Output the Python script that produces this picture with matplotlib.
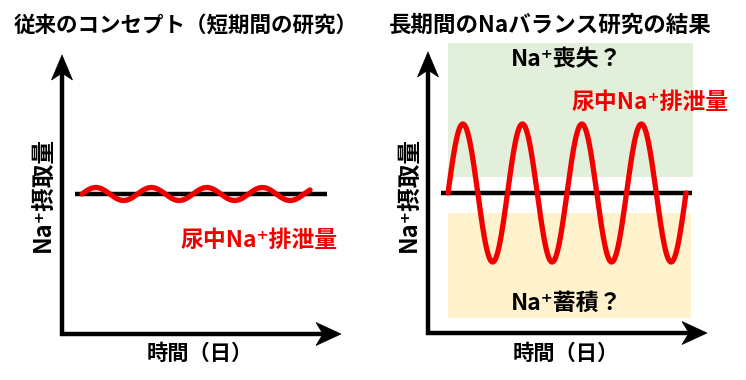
import numpy as np
import matplotlib
matplotlib.use("Agg")
import matplotlib.pyplot as plt
from matplotlib.patches import Polygon, Rectangle

plt.rcParams['font.family'] = ['Noto Sans CJK JP', 'DejaVu Sans']

# ---- texts ----
titles = ["従来のコンセプト（短期間の研究）", "長期間のNaバランス研究の結果"]
ylabel = "Na⁺摂取量"
xlabel = "時間（日）"
red_label = "尿中Na⁺排泄量"
loss_label = "Na⁺喪失？"
gain_label = "Na⁺蓄積？"

# ---- schematic values (pixel layout units) ----
# panel: y-axis x, x-axis y, y-arrow tip, x-arrow tip
axis_x = [62, 428]
axis_y = [334, 333]
arrow_top = [55, 52]
arrow_right = [341, 707]
# intake (black) level and extent
intake_level = [194, 193]
intake_x0 = [75, 441]
intake_x1 = [327, 692]
# urinary excretion wave: start, end, period, amplitude
wave_start = [82, 448]
wave_end = [310, 686]
wave_period = [55.5, 59.5]
wave_amp = [6.5, 69]

RED = "#f20000"
GREEN = "#e2efda"
ORANGE = "#fff2cc"

fig = plt.figure(figsize=(7.46, 3.80), dpi=100)
ax = fig.add_axes([0, 0, 1, 1])
ax.set_xlim(0, 746)
ax.set_ylim(380, 0)
ax.axis('off')

# shaded regions on right panel
ax.add_patch(Rectangle((448, 43), 245, 134, facecolor=GREEN, edgecolor='none', zorder=0))
ax.add_patch(Rectangle((448, 213), 243, 105, facecolor=ORANGE, edgecolor='none', zorder=0))

for i in range(2):
    ax0 = axis_x[i]
    ay0 = axis_y[i]
    # axes lines
    ax.plot([ax0, ax0, arrow_right[i] - 15], [arrow_top[i] + 15, ay0, ay0],
            color='k', lw=3.2, solid_joinstyle='miter', solid_capstyle='butt', zorder=3)
    # arrow heads (stealth)
    t = arrow_top[i]
    ax.add_patch(Polygon([(ax0, t), (ax0 - 10.5, t + 25), (ax0, t + 18), (ax0 + 10.5, t + 25)],
                         closed=True, facecolor='k', edgecolor='k', lw=0.5, zorder=4))
    r = arrow_right[i]
    ax.add_patch(Polygon([(r, ay0), (r - 25, ay0 - 11.5), (r - 18, ay0), (r - 25, ay0 + 11.5)],
                         closed=True, facecolor='k', edgecolor='k', lw=0.5, zorder=4))
    # intake level
    ax.plot([intake_x0[i], intake_x1[i]], [intake_level[i]] * 2, color='k', lw=3.2,
            solid_capstyle='butt', zorder=2)
    # excretion wave
    xs = np.linspace(wave_start[i], wave_end[i], 600)
    ys = intake_level[i] - wave_amp[i] * np.sin(2 * np.pi * (xs - wave_start[i]) / wave_period[i])
    ax.plot(xs, ys, color=RED, lw=3.8, solid_capstyle='round', zorder=3)

# titles
ax.text(186, 25, titles[0], ha='center', va='center', fontsize=15.5, fontweight='bold')
ax.text(550, 25, titles[1], ha='center', va='center', fontsize=16.2, fontweight='bold')

# axis labels
for xc, yl in [(44, 195), (410, 195)]:
    ax.text(xc, yl, ylabel, ha='center', va='center', rotation=90, fontsize=17, fontweight='bold')
for xc in [200, 566]:
    ax.text(xc, 353, xlabel, ha='center', va='center', fontsize=15.3, fontweight='bold')

# red labels
ax.text(259, 240, red_label, ha='center', va='center', fontsize=16.5, fontweight='bold', color=RED)
ax.text(650, 102, red_label, ha='center', va='center', fontsize=16.5, fontweight='bold', color=RED)

# region labels
ax.text(567, 60, loss_label, ha='center', va='center', fontsize=16.5, fontweight='bold')
ax.text(567, 303, gain_label, ha='center', va='center', fontsize=16.5, fontweight='bold')

fig.savefig("out.png", dpi=100)
